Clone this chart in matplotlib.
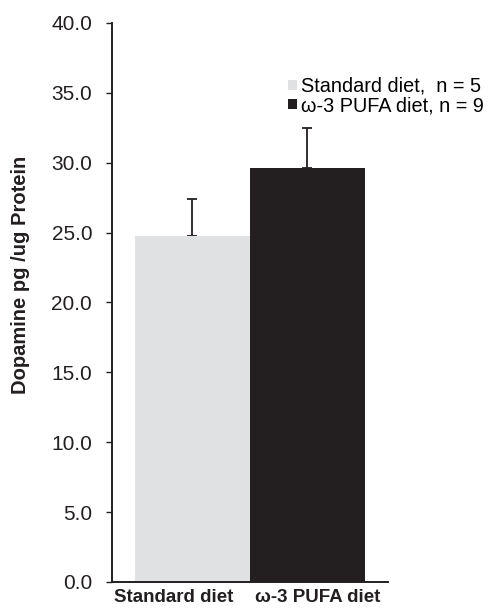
import matplotlib
matplotlib.use('Agg')
import matplotlib.pyplot as plt
from matplotlib.patches import Patch

plt.rcParams['font.family'] = ['Liberation Sans', 'DejaVu Sans']

groups = ['Standard diet', 'ω-3 PUFA diet']
legend_labels = ['Standard diet,  n = 5', 'ω-3 PUFA diet, n = 9']
means = [24.75, 29.65]
sem = [2.65, 2.85]
colors = ['#e0e1e3', '#231f20']
yticks = [0, 5, 10, 15, 20, 25, 30, 35, 40]

fig = plt.figure(figsize=(4.88, 6.16), dpi=100)
ax = fig.add_axes([0.2295, 0.0552, 0.5655, 0.9075])

x = [0, 1]
ax.bar(x, means, width=1.0, color=colors, zorder=2)
ax.errorbar(x, means, yerr=[[0, 0], sem], fmt='none', ecolor='#231f20',
            elinewidth=1.3, capsize=3.6, capthick=1.3, zorder=1)

ax.set_xlim(-0.7, 1.7)
ax.set_ylim(0, 40)
ax.set_yticks(yticks)
ax.set_yticklabels([f'{v:.1f}' for v in yticks], fontsize=15, color='#231f20')
ax.tick_params(axis='y', direction='out', length=4.3, width=1, color='#231f20', pad=10)
# category labels sit slightly apart from the bar centres, as in the original
ax.set_xticks([-0.16, 1.09])
ax.set_xticklabels(groups, fontsize=13.5, fontweight='bold', color='#231f20')
ax.tick_params(axis='x', length=0, pad=5)

for s in ['top', 'right']:
    ax.spines[s].set_visible(False)
for s in ['left', 'bottom']:
    ax.spines[s].set_linewidth(1.4)
    ax.spines[s].set_color('#231f20')

ax.set_ylabel('Dopamine pg /ug Protein', fontsize=14.5, fontweight='bold',
              color='#231f20')
ax.yaxis.set_label_coords(-0.297, 0.55)

handles = [Patch(facecolor=c, edgecolor='none') for c in colors]
fig.legend(handles, legend_labels, loc='upper left', bbox_to_anchor=(0.59, 0.875),
           frameon=False, fontsize=14.3, handlelength=0.45, handleheight=0.45,
           handletextpad=0.2, labelspacing=0.0, borderaxespad=0, borderpad=0)

fig.savefig('out.png', dpi=100)
